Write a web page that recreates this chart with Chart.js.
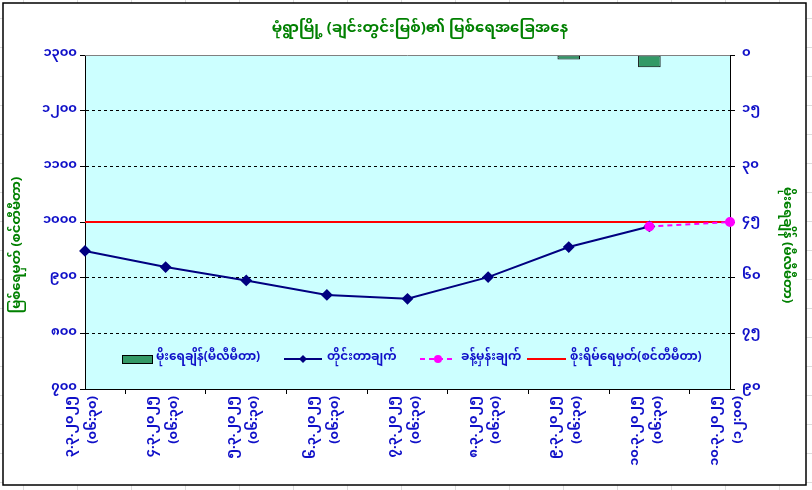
<!DOCTYPE html>
<html>
<head>
<meta charset="utf-8">
<script src="https://cdn.jsdelivr.net/npm/chart.js@4.4.1/dist/chart.umd.min.js"></script>
<style>
  html, body { margin: 0; padding: 0; background: #fff; }
  canvas { display: block; }
</style>
</head>
<body>
<canvas id="riverChart" width="812" height="490"></canvas>
<script>
// Monywa (Chindwin river) water level chart

const FONT = '"Noto Sans Myanmar", "Noto Sans", Padauk, sans-serif';

const chartTitle = 'မုံရွာမြို့ (ချင်းတွင်းမြစ်)၏ မြစ်ရေအခြေအနေ';
const leftTitle = 'မြစ်ရေမှတ် (စင်တီမီတာ)';
const rightTitle = 'မိုးရေချိန် (မီလီမီတာ)';

const categories = [
    ['၃.၃.၂၀၂၅', '(၀၆:၃၀)'],
    ['၄.၃.၂၀၂၅', '(၀၆:၃၀)'],
    ['၅.၃.၂၀၂၅', '(၀၆:၃၀)'],
    ['၆.၃.၂၀၂၅', '(၀၆:၃၀)'],
    ['၇.၃.၂၀၂၅', '(၀၆:၃၀)'],
    ['၈.၃.၂၀၂၅', '(၀၆:၃၀)'],
    ['၉.၃.၂၀၂၅', '(၀၆:၃၀)'],
    ['၁၀.၃.၂၀၂၅', '(၀၆:၃၀)'],
    ['၁၀.၃.၂၀၂၅', '(၁၂:၀၀)']
];

const rainfall = [null, null, null, null, null, null, 1.2, 3.3, null];
const measured = [948, 919, 895, 869, 862, 901, 955, 992, null];
const forecast = [null, null, null, null, null, null, null, 992, 1000];
const dangerLevel = [1000, 1000, 1000, 1000, 1000, 1000, 1000, 1000, 1000];

const seriesNames = ['မိုးရေချိန်(မီလီမီတာ)', 'တိုင်းတာချက်', 'ခန့်မှန်းချက်', 'စိုးရိမ်ရေမှတ်(စင်တီမီတာ)'];

const levelRange = { min: 700, max: 1300, step: 100 };
const rainRange = { min: 0, max: 90, step: 15 };

const toMyanmarDigits = (v) => String(v).replace(/\d/g, d => '၀၁၂၃၄၅၆၇၈၉'[d]);

const BLUE = '#1010c8';
const GREEN = '#008000';

// sheet background, outer frame, plot fill, titles, legend
const framePlugin = {
    id: 'frame',
    beforeDraw(chart) {
        const { ctx, chartArea: a } = chart;
        ctx.save();
        ctx.fillStyle = '#fff';
        ctx.fillRect(0, 0, chart.width, chart.height);
        ctx.strokeStyle = '#dcdcdc';
        ctx.lineWidth = 1;
        for (let x = 23; x < chart.width; x += 54) {
            ctx.beginPath(); ctx.moveTo(x + 0.5, 0); ctx.lineTo(x + 0.5, chart.height); ctx.stroke();
        }
        for (let y = 18; y < chart.height; y += 29) {
            ctx.beginPath(); ctx.moveTo(0, y + 0.5); ctx.lineTo(chart.width, y + 0.5); ctx.stroke();
        }
        ctx.fillStyle = '#fff';
        ctx.fillRect(3, 3, 803, 482);
        ctx.strokeStyle = '#000';
        ctx.lineWidth = 1.5;
        ctx.strokeRect(3, 3, 803, 482);
        ctx.fillStyle = '#ccffff';
        ctx.fillRect(a.left, a.top, a.right - a.left, a.bottom - a.top);

        ctx.fillStyle = GREEN;
        ctx.font = 'bold 15px ' + FONT;
        ctx.textAlign = 'center';
        ctx.textBaseline = 'middle';
        ctx.fillText(chartTitle, 420, 30);

        ctx.font = 'bold 13px ' + FONT;
        ctx.save();
        ctx.translate(19, 245);
        ctx.rotate(-Math.PI / 2);
        ctx.fillText(leftTitle, 0, 0);
        ctx.restore();
        ctx.save();
        ctx.translate(785, 245);
        ctx.rotate(Math.PI / 2);
        ctx.fillText(rightTitle, 0, 0);
        ctx.restore();
        ctx.restore();
    },
    afterDatasetsDraw(chart) {
        const { ctx, chartArea: a } = chart;
        ctx.save();
        ctx.strokeStyle = '#808080';
        ctx.lineWidth = 1;
        ctx.beginPath(); ctx.moveTo(a.left, a.top + 0.5); ctx.lineTo(a.right, a.top + 0.5); ctx.stroke();

        // legend inside plot area
        const y = 359;
        ctx.font = 'bold 12px ' + FONT;
        ctx.textBaseline = 'middle';
        ctx.textAlign = 'left';

        ctx.fillStyle = '#339966';
        ctx.fillRect(122, y - 4, 30, 8);
        ctx.strokeStyle = '#000';
        ctx.strokeRect(122.5, y - 3.5, 30, 8);
        ctx.fillStyle = BLUE;
        ctx.fillText(seriesNames[0], 156, y);

        ctx.strokeStyle = '#000080';
        ctx.lineWidth = 2;
        ctx.beginPath(); ctx.moveTo(284, y); ctx.lineTo(322, y); ctx.stroke();
        ctx.fillStyle = '#000080';
        ctx.beginPath();
        ctx.moveTo(303, y - 4); ctx.lineTo(307, y); ctx.lineTo(303, y + 4); ctx.lineTo(299, y);
        ctx.closePath(); ctx.fill();
        ctx.fillStyle = BLUE;
        ctx.fillText(seriesNames[1], 327, y);

        ctx.strokeStyle = '#ff00ff';
        ctx.setLineDash([5, 4]);
        ctx.beginPath(); ctx.moveTo(420, y); ctx.lineTo(456, y); ctx.stroke();
        ctx.setLineDash([]);
        ctx.fillStyle = '#ff00ff';
        ctx.beginPath(); ctx.arc(438, y, 4, 0, Math.PI * 2); ctx.fill();
        ctx.fillStyle = BLUE;
        ctx.fillText(seriesNames[2], 461, y);

        ctx.strokeStyle = '#ff0000';
        ctx.beginPath(); ctx.moveTo(527, y); ctx.lineTo(566, y); ctx.stroke();
        ctx.fillStyle = BLUE;
        ctx.fillText(seriesNames[3], 570, y);
        ctx.restore();
    }
};

document.addEventListener('DOMContentLoaded', function() {
    const ctx = document.getElementById('riverChart').getContext('2d');
    new Chart(ctx, {
        data: {
            labels: categories,
            datasets: [
                {
                    type: 'line',
                    label: seriesNames[3],
                    data: dangerLevel,
                    yAxisID: 'y',
                    borderColor: '#ff0000',
                    borderWidth: 2,
                    pointRadius: 0,
                    order: 4
                },
                {
                    type: 'line',
                    label: seriesNames[1],
                    data: measured,
                    yAxisID: 'y',
                    borderColor: '#000080',
                    backgroundColor: '#000080',
                    borderWidth: 2,
                    pointStyle: 'rectRot',
                    pointRadius: 4.5,
                    spanGaps: false,
                    order: 2
                },
                {
                    type: 'line',
                    label: seriesNames[2],
                    data: forecast,
                    yAxisID: 'y',
                    borderColor: '#ff00ff',
                    backgroundColor: '#ff00ff',
                    borderWidth: 2,
                    borderDash: [5, 4],
                    pointStyle: 'circle',
                    pointRadius: 4,
                    order: 1
                },
                {
                    type: 'bar',
                    label: seriesNames[0],
                    data: rainfall,
                    yAxisID: 'y2',
                    backgroundColor: '#339966',
                    borderColor: '#000',
                    borderWidth: 1,
                    borderSkipped: false,
                    barPercentage: 0.28,
                    categoryPercentage: 1,
                    order: 5
                }
            ]
        },
        options: {
            responsive: false,
            animation: false,
            layout: { padding: { top: 55, left: 0, right: 0, bottom: 0 } },
            scales: {
                x: {
                    type: 'category',
                    offset: false,
                    grid: { drawOnChartArea: false, color: '#000', tickLength: 5, tickColor: '#000' },
                    border: { color: '#000', width: 1 },
                    ticks: {
                        color: BLUE,
                        font: { family: FONT, size: 13, weight: 'bold', lineHeight: 1.75 },
                        minRotation: 90,
                        maxRotation: 90,
                        padding: 2,
                        labelOffset: -13,
                        autoSkip: false
                    },
                    afterFit(scale) { scale.height = 101; }
                },
                y: {
                    position: 'left',
                    min: levelRange.min,
                    max: levelRange.max,
                    ticks: {
                        stepSize: levelRange.step,
                        color: BLUE,
                        padding: 3,
                        font: { family: FONT, size: 13, weight: 'bold' },
                        callback: (v) => toMyanmarDigits(v)
                    },
                    grid: {
                        color: (c) => (c.tick && (c.tick.value === levelRange.max || c.tick.value === levelRange.min)) ? 'rgba(0,0,0,0)' : '#000',
                        tickColor: '#000',
                        tickLength: 5,
                        lineWidth: 1
                    },
                    border: { color: '#000', width: 1, dash: [3, 3] },
                    afterFit(scale) { scale.width = 85; }
                },
                y2: {
                    position: 'right',
                    reverse: true,
                    min: rainRange.min,
                    max: rainRange.max,
                    ticks: {
                        stepSize: rainRange.step,
                        color: BLUE,
                        padding: 7,
                        font: { family: FONT, size: 13, weight: 'bold' },
                        callback: (v) => toMyanmarDigits(v)
                    },
                    grid: { drawOnChartArea: false, tickColor: '#000', tickLength: 5 },
                    border: { color: '#000', width: 1 },
                    afterFit(scale) { scale.width = 82; }
                }
            },
            plugins: {
                legend: { display: false },
                title: { display: false },
                tooltip: { enabled: false }
            }
        },
        plugins: [framePlugin]
    });
});
</script>
</body>
</html>
